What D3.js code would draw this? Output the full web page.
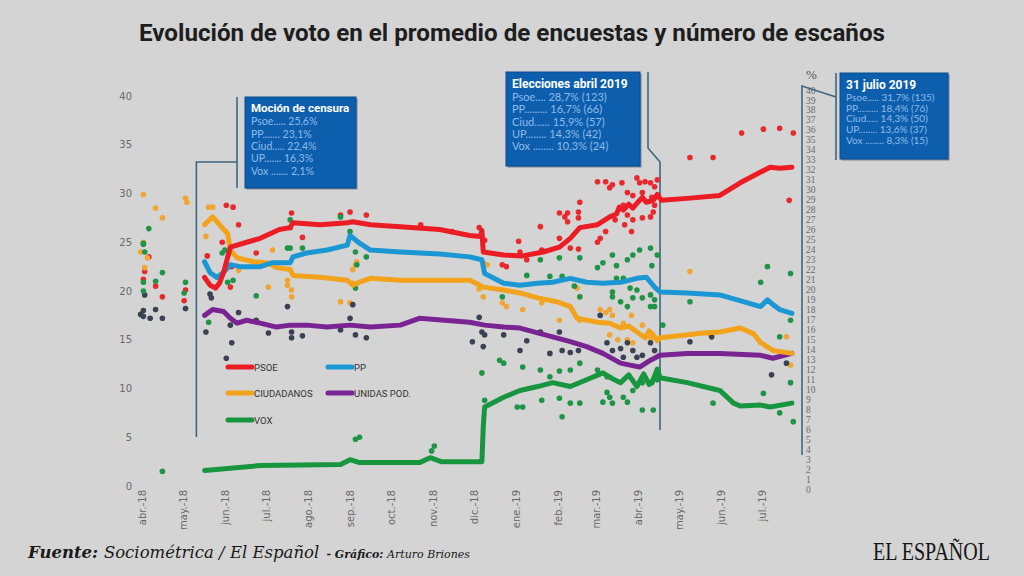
<!DOCTYPE html>
<html><head><meta charset="utf-8">
<script src="https://cdn.jsdelivr.net/npm/d3@7"></script>
<style>body{margin:0;background:#d4d4d4}svg{display:block}</style>
</head><body><svg id="c" width="1024" height="576"></svg>
<script>
// ---------- DATA ----------
const title = "Evolución de voto en el promedio de encuestas y número de escaños";
const monthLabels = ["abr.-18","may.-18","jun.-18","jul.-18","ago.-18","sep.-18","oct.-18","nov.-18","dic.-18","ene.-19","feb.-19","mar.-19","abr.-19","may.-19","jun.-19","jul.-19"];
const leftTicks = [0,5,10,15,20,25,30,35,40];
const rightTicks = d3.range(0,41);
// x values are days since 1 April 2018 (chart position), y values are vote %
const psoeLine = [[46,21.4],[50,20.6],[54,20.3],[57,20.8],[60,21.9],[65,24.5],[77,25.0],[87,25.4],[101,26.3],[109,26.5],[111,27.0],[131,26.8],[151,27.0],[155,27.1],[168,26.8],[190,26.6],[219,26.3],[241,25.7],[249,25.6],[250,26.2],[251,24.0],[266,23.7],[280,23.6],[295,24.0],[307,24.5],[315,25.4],[322,26.5],[335,26.8],[344,27.6],[349,27.9],[351,28.6],[354,28.3],[358,28.9],[361,28.5],[364,29.0],[368,29.6],[371,29.1],[376,29.3],[379,29.9],[382,29.3],[401,29.5],[425,29.8],[440,31.1],[455,32.2],[462,32.7],[469,32.6],[478,32.7]];
const ppLine = [[46,23.0],[50,21.9],[55,21.4],[60,21.9],[65,22.7],[72,22.5],[87,22.5],[96,22.9],[109,22.9],[111,23.5],[121,23.9],[136,24.2],[151,24.7],[153,25.7],[160,24.9],[168,24.2],[190,24.0],[219,23.8],[241,23.5],[250,23.2],[252,21.8],[266,20.8],[278,20.6],[291,20.8],[302,20.9],[315,21.3],[327,20.9],[339,20.8],[352,20.9],[364,21.3],[371,21.4],[377,20.4],[381,19.9],[401,19.8],[425,19.6],[455,18.4],[460,19.1],[464,18.6],[469,18.1],[478,17.7]];
const csLine = [[46,26.8],[52,27.6],[57,26.8],[63,25.9],[65,24.2],[70,23.4],[82,23.0],[92,22.9],[99,22.4],[109,22.2],[111,21.6],[131,21.4],[151,21.1],[155,20.6],[160,20.9],[168,21.3],[190,21.1],[219,21.1],[241,21.1],[251,20.4],[266,20.1],[278,19.8],[291,19.3],[305,18.9],[315,18.4],[320,17.2],[335,16.8],[344,16.7],[352,16.2],[358,16.4],[364,15.8],[370,15.2],[373,15.9],[376,15.5],[379,14.9],[381,15.2],[388,15.3],[413,15.7],[425,15.8],[440,16.2],[450,15.6],[455,14.7],[464,13.9],[478,13.6]];
const upLine = [[46,17.5],[52,18.1],[60,17.9],[65,17.2],[70,16.7],[77,17.0],[87,16.7],[99,16.3],[109,16.5],[121,16.5],[136,16.3],[153,16.5],[168,16.3],[190,16.5],[204,17.2],[241,16.8],[252,16.5],[266,16.3],[278,16.2],[291,15.7],[302,15.3],[315,14.8],[327,14.3],[339,13.6],[352,12.6],[359,12.4],[366,12.2],[374,12.9],[381,13.4],[401,13.6],[425,13.6],[455,13.4],[464,13.1],[478,13.6]];
const voxLine = [[46,1.6],[87,2.1],[146,2.2],[153,2.7],[160,2.4],[204,2.4],[212,2.9],[220,2.5],[250,2.5],[251,6.1],[252,8.1],[266,9.1],[278,9.8],[291,10.2],[302,10.6],[315,10.2],[327,10.9],[339,11.6],[346,11.0],[352,10.6],[358,11.4],[364,10.2],[369,11.5],[373,10.4],[376,10.9],[379,12.0],[381,11.1],[401,10.6],[425,9.8],[435,8.5],[440,8.2],[455,8.3],[462,8.1],[478,8.5]];

const psoeDots = [[5,23.5],[2,22.0],[1,21.2],[10,20.5],[15,19.4],[32,20.1],[31,19.0],[62,28.8],[67,28.6],[71,26.8],[59,25.0],[48,23.6],[84,23.9],[118,25.5],[110,28.0],[109,26.5],[146,27.8],[153,28.1],[165,27.8],[65,20.4],[66,22.5],[403,33.7],[420,33.7],[335,31.2],[341,31.2],[346,30.9],[353,31.1],[364,31.6],[366,31.1],[370,31.2],[374,31.1],[379,31.4],[377,30.7],[344,30.6],[357,30.1],[361,29.8],[368,30.1],[375,29.6],[354,28.8],[357,27.8],[361,27.3],[368,27.5],[374,27.6],[376,28.1],[377,28.8],[348,27.3],[355,26.8],[360,26.1],[341,26.1],[337,25.4],[335,25.0],[307,28.0],[311,27.6],[313,28.0],[321,28.1],[322,29.1],[313,27.1],[321,27.5],[293,26.6],[307,25.4],[315,24.4],[321,24.3],[277,25.1],[265,22.7],[268,22.5],[278,24.0],[283,23.2],[294,24.2],[441,36.2],[457,36.6],[469,36.7],[479,36.2],[476,29.3],[248,26.5],[252,25.2],[205,26.8],[228,26.1]];
const ppDots = [];
const csDots = [[1,29.9],[10,28.5],[15,27.5],[32,29.5],[33,29.1],[1,25.0],[-1,24.0],[4,23.4],[2,22.4],[49,28.6],[52,28.6],[47,25.6],[71,22.1],[96,24.2],[107,21.1],[107,20.6],[110,20.1],[110,19.4],[93,20.4],[146,18.9],[153,18.8],[155,22.2],[157,22.7],[158,23.0],[155,20.8],[251,19.4],[265,18.8],[268,18.4],[280,18.1],[294,18.8],[307,17.0],[320,20.3],[322,19.4],[322,17.0],[337,18.1],[341,17.8],[344,18.1],[346,17.5],[354,16.7],[360,17.5],[344,15.5],[350,15.0],[357,15.0],[361,14.7],[368,16.5],[374,15.2],[403,22.0],[418,15.5],[251,22.9],[254,22.7],[474,15.3],[477,12.4],[248,20.2]];
const upDots = [[-1,17.6],[1,18.0],[1,17.4],[6,17.2],[10,18.1],[15,17.2],[2,19.6],[32,18.2],[47,15.8],[50,19.7],[51,19.3],[65,16.5],[66,14.7],[62,13.1],[71,17.8],[84,17.0],[93,15.7],[107,18.4],[110,15.8],[110,15.2],[118,15.4],[146,16.0],[153,17.2],[155,18.6],[157,15.5],[165,15.2],[250,15.8],[252,15.5],[251,14.3],[266,15.5],[278,13.9],[283,14.9],[293,15.8],[300,13.6],[307,15.8],[309,13.9],[315,13.7],[321,13.9],[337,17.5],[342,14.7],[346,13.9],[352,14.1],[357,14.7],[361,13.9],[354,13.2],[364,13.2],[374,14.7],[377,13.9],[368,13.4],[403,14.8],[419,15.3],[243,14.8],[463,11.4],[474,12.6],[248,17.3]];
const voxDots = [[1,24.9],[1,24.8],[5,26.4],[2,24.0],[1,20.9],[10,21.0],[15,21.9],[32,20.9],[31,19.8],[1,20.0],[15,1.5],[49,16.8],[59,23.9],[61,24.2],[67,21.1],[63,20.9],[84,19.5],[107,24.4],[109,24.4],[109,27.3],[118,24.4],[146,27.6],[153,26.1],[157,24.0],[158,22.7],[157,20.3],[165,23.5],[293,23.2],[307,23.4],[322,23.4],[335,22.4],[339,22.9],[346,23.7],[357,23.2],[361,23.7],[366,24.2],[374,24.4],[379,23.7],[375,22.6],[349,22.6],[349,21.3],[354,21.3],[359,20.3],[364,20.1],[374,19.6],[377,19.1],[368,19.3],[346,19.4],[352,18.9],[357,18.4],[361,19.3],[374,18.4],[377,18.4],[346,19.9],[300,21.5],[309,21.5],[318,20.5],[322,19.4],[283,21.6],[265,19.4],[263,12.9],[266,12.6],[280,12.2],[293,11.9],[307,11.8],[315,11.9],[322,12.6],[335,11.9],[342,11.2],[300,11.2],[252,8.8],[250,11.6],[280,8.1],[276,8.1],[294,8.8],[307,9.0],[315,8.5],[322,8.5],[342,9.6],[344,9.1],[354,9.1],[361,9.8],[368,10.6],[375,10.6],[379,10.9],[339,8.6],[346,8.5],[357,8.6],[368,7.8],[376,7.8],[309,7.1],[403,18.9],[420,8.5],[383,16.5],[460,22.5],[477,21.8],[455,20.9],[477,17.0],[469,15.3],[477,10.6],[469,7.5],[479,6.6],[457,9.5],[157,4.8],[160,5.0],[213,3.6],[215,4.1]];

const parties = ["PSOE","PP","CIUDADANOS","UNIDAS POD.","VOX"];
const lineColors = ["#ec1c24","#1b97d3","#f2a31b","#7a2393","#17963f"];
const dotColors = ["#e8282c","#1b97d3","#efa634","#3a4152","#1f9446"];
const eventDays = [40, 381];
const boxTitles = ["Moción de censura","Elecciones abril 2019","31 julio 2019"];
const boxRows = [
  ["Psoe..... 25,6%","PP....... 23,1%","Ciud..... 22,4%","UP....... 16,3%","Vox ....... 2,1%"],
  ["Psoe.... 28,7%  (123)","PP......... 16,7% (66)","Ciud...... 15,9% (57)","UP........ 14,3% (42)","Vox ........ 10,3% (24)"],
  ["Psoe..... 31,7% (135)","PP......... 18,4% (76)","Ciud..... 14,3% (50)","UP........ 13,6% (37)","Vox ........ 8,3% (15)"]
];

// ---------- CHART ----------
const svg = d3.select("#c");
svg.append("rect").attr("width",1024).attr("height",576).attr("fill","#d4d4d4");
const t0 = new Date(2018,3,1);
const day = d => d3.timeDay.offset(t0, d);
const x = d3.scaleTime().domain([t0, new Date(2019,6,1)]).range([142,762]);
const yL = d3.scaleLinear().domain([0,40]).range([486,96]);
const yR = d3.scaleLinear().domain([0,40]).range([489,90]);

// title
svg.append("text").attr("x",512).attr("y",41).attr("text-anchor","middle")
  .attr("font-family","Roboto, sans-serif").attr("font-weight","bold").attr("font-size",23)
  .attr("fill","#1e1e1e").attr("textLength",746).attr("lengthAdjust","spacingAndGlyphs").text(title);

// left axis
const gl = svg.append("g").attr("transform","translate(132,0)")
  .call(d3.axisLeft(yL).tickValues(leftTicks).tickSize(0).tickPadding(0));
gl.select(".domain").remove();
gl.selectAll("text").attr("font-family","DejaVu Sans, sans-serif").attr("font-size",10).attr("fill","#6a6a6a");

// right axis
const gr = svg.append("g").attr("transform","translate(806,0)")
  .call(d3.axisRight(yR).tickValues(rightTicks).tickSize(0).tickPadding(0));
gr.select(".domain").remove();
gr.selectAll("text").attr("font-family","Liberation Serif, serif").attr("font-size",9.5).attr("fill","#6a6a6a");
svg.append("text").attr("x",806).attr("y",79).attr("font-family","Liberation Serif, serif").attr("font-size",13).attr("fill","#555").text("%");

// x axis
const months = d3.timeMonth.range(t0, new Date(2019,6,2));
const gx = svg.append("g").attr("transform","translate(0,486)")
  .call(d3.axisBottom(x).tickValues(months).tickFormat((d,i)=>monthLabels[i]).tickSize(0));
gx.select(".domain").remove();
gx.selectAll("text").attr("transform","rotate(-90)").attr("x",-4).attr("y",0).attr("dy","0.35em")
  .attr("text-anchor","end").attr("font-family","DejaVu Sans, sans-serif").attr("font-size",10).attr("fill","#6a6a6a");

// annotation connectors
const annoColor = "#3e6680";
const ex0 = x(day(eventDays[0])), ex1 = x(day(eventDays[1]));
const conn = [
  [[ex0,437],[ex0,162],[237,162]], [[237,97],[237,188]],
  [[648,72],[648,148],[ex1,162],[ex1,430]],
  [[802,455],[802,86],[836,97]], [[836,73],[836,160]]
];
svg.append("g").selectAll("path").data(conn).join("path")
  .attr("d", d => d3.line()(d)).attr("fill","none").attr("stroke",annoColor).attr("stroke-width",1.6);

// dots
const dotSets = [psoeDots, ppDots, csDots, upDots, voxDots];
const gd = svg.append("g");
dotSets.forEach((set,i)=>{
  gd.append("g").selectAll("circle").data(set).join("circle")
    .attr("cx",d=>x(day(d[0]))).attr("cy",d=>yL(d[1])).attr("r",2.8).attr("fill",dotColors[i]);
});

// lines
const lineSets = [psoeLine, ppLine, csLine, upLine, voxLine];
const lineGen = d3.line().x(d=>x(day(d[0]))).y(d=>yL(d[1]));
const order = [4,3,2,1,0];
order.forEach(i=>{
  svg.append("path").datum(lineSets[i]).attr("d",lineGen).attr("fill","none")
    .attr("stroke",lineColors[i]).attr("stroke-width",5).attr("stroke-linejoin","round").attr("stroke-linecap","round");
});

// legend
const legPos = [[228,367],[328,367],[228,393],[328,393],[228,420]];
const lg = svg.append("g");
parties.forEach((p,i)=>{
  const [lx,ly] = legPos[i];
  lg.append("line").attr("x1",lx).attr("x2",lx+24).attr("y1",ly).attr("y2",ly)
    .attr("stroke",lineColors[i]).attr("stroke-width",5).attr("stroke-linecap","round");
  lg.append("text").attr("x",lx+26).attr("y",ly+3.5).attr("font-family","Roboto, sans-serif")
    .attr("font-size",9.5).attr("fill","#333").text(p);
});

// boxes
const boxes = [
  {x:245,y:97,w:111,h:91,ty:112,dy:12.3,fs:10.5,tfs:11.5},
  {x:506,y:72,w:134,h:94,ty:88,dy:12.2,fs:11,tfs:12},
  {x:840,y:73,w:108,h:86,ty:89,dy:10.8,fs:10,tfs:12}
];
boxes.forEach((b,i)=>{
  const g = svg.append("g");
  g.append("rect").attr("x",b.x+1.5).attr("y",b.y+1.5).attr("width",b.w).attr("height",b.h).attr("fill","#3d5570").attr("opacity",0.6);
  g.append("rect").attr("x",b.x).attr("y",b.y).attr("width",b.w).attr("height",b.h).attr("fill","#0d5fae").attr("stroke","#0a4c8f").attr("stroke-width",1);
  g.append("text").attr("x",b.x+6).attr("y",b.ty).attr("font-family","Roboto, sans-serif").attr("font-weight","bold")
    .attr("font-size",b.tfs).attr("fill","#ffffff").text(boxTitles[i]);
  boxRows[i].forEach((r,j)=>{
    g.append("text").attr("x",b.x+6).attr("y",b.ty+b.dy*(j+1)+1).attr("font-family","Lato, sans-serif")
      .attr("font-size",b.fs).attr("fill","#8dbbea").text(r);
  });
});

// footer
const ft = svg.append("text").attr("x",28).attr("y",558).attr("font-family","DejaVu Serif, serif").attr("font-style","italic").attr("fill","#1a1a1a");
ft.append("tspan").attr("font-weight","bold").attr("font-size",16.5).text("Fuente: ");
ft.append("tspan").attr("font-size",16.5).text("Sociométrica / El Español ");
ft.append("tspan").attr("font-size",11).attr("font-weight","bold").attr("dx",2).text("- Gráfico: ");
ft.append("tspan").attr("font-size",11).text("Arturo Briones");

svg.append("text").attr("x",873).attr("y",560).attr("font-family","Liberation Serif, serif").attr("font-size",25)
  .attr("fill","#161616").attr("textLength",117).attr("lengthAdjust","spacingAndGlyphs").text("EL ESPAÑOL");
</script></body></html>
